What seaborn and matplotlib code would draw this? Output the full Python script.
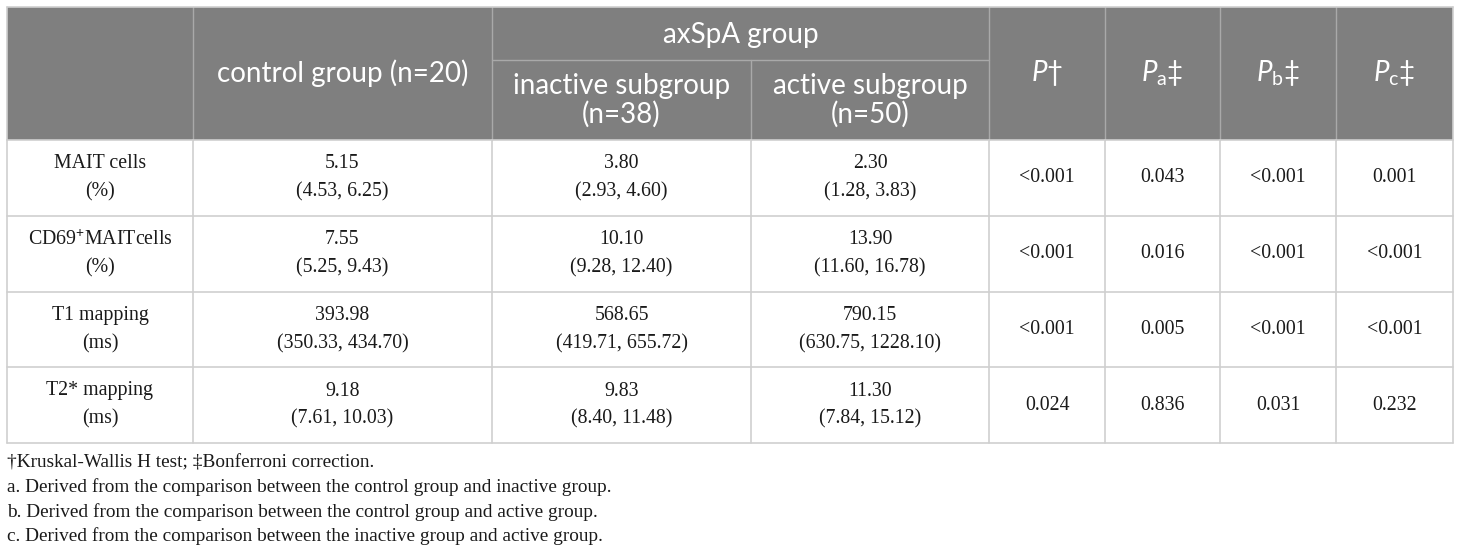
import numpy as np
import pandas as pd
import seaborn as sns
import matplotlib.pyplot as plt
from matplotlib.patches import Rectangle


# table content
row_names = ["MAIT cells", "CD69$^{+}$MAITcells", "T1 mapping", "T2* mapping"]
row_units = ["(%)", "(%)", "(ms)", "(ms)"]

control_med = [5.15, 7.55, 393.98, 9.18]
control_q1 = [4.53, 5.25, 350.33, 7.61]
control_q3 = [6.25, 9.43, 434.70, 10.03]

inactive_med = [3.80, 10.10, 568.65, 9.83]
inactive_q1 = [2.93, 9.28, 419.71, 8.40]
inactive_q3 = [4.60, 12.40, 655.72, 11.48]

active_med = [2.30, 13.90, 790.15, 11.30]
active_q1 = [1.28, 11.60, 630.75, 7.84]
active_q3 = [3.83, 16.78, 1228.10, 15.12]

p_kw = ["<0.001", "<0.001", "<0.001", "0.024"]
p_a = ["0.043", "0.016", "0.005", "0.836"]
p_b = ["<0.001", "<0.001", "<0.001", "0.031"]
p_c = ["0.001", "<0.001", "<0.001", "0.232"]

group_headers = ["control group (n=20)", "inactive subgroup\n(n=38)", "active subgroup\n(n=50)"]
span_header = "axSpA group"
p_headers = ["$P$†", "$P_{\\mathrm{a}}$‡", "$P_{\\mathrm{b}}$‡", "$P_{\\mathrm{c}}$‡"]

footnotes = [
    "†Kruskal-Wallis H test; ‡Bonferroni correction.",
    "a. Derived from the comparison between the control group and inactive group.",
    "b. Derived from the comparison between the control group and active group.",
    "c. Derived from the comparison between the inactive group and active group.",
]

sns.set_theme(style="white")
plt.rcParams["mathtext.fontset"] = "custom"
plt.rcParams["mathtext.rm"] = "Lato"
plt.rcParams["mathtext.it"] = "Lato:italic"
plt.rcParams["font.family"] = ["Liberation Serif", "DejaVu Sans"]

# layout in pixels
xs = [7, 193, 492, 751, 989, 1105, 1220, 1336, 1453]
ys = [7, 140, 216, 292, 367, 443]
split_y = 60

head_bg = "#7f7f7f"
head_line = "#a9a9a9"
body_line = "#cfcfcf"
serif = ["Liberation Serif", "DejaVu Serif"]
sans = ["Lato", "DejaVu Sans"]

fig = plt.figure(figsize=(14.6, 5.55), dpi=100)
ax = fig.add_axes([0, 0, 1, 1])
ax.set_xlim(0, 1460)
ax.set_ylim(555, 0)
ax.axis("off")

# header background
ax.add_patch(Rectangle((xs[0], ys[0]), xs[-1] - xs[0], ys[1] - ys[0],
                       facecolor=head_bg, edgecolor="none", zorder=1))

# header lines
for x in xs[1:-1]:
    y0 = split_y if x == xs[3] else ys[0]
    ax.plot([x, x], [y0, ys[1]], color=head_line, lw=1, zorder=2)
ax.plot([xs[2], xs[4]], [split_y, split_y], color=head_line, lw=1, zorder=2)

# body grid
for y in ys[1:]:
    ax.plot([xs[0], xs[-1]], [y, y], color=body_line, lw=1.2, zorder=2)
for x in xs:
    ax.plot([x, x], [ys[1], ys[-1]], color=body_line, lw=1.2, zorder=2)
ax.plot([xs[0], xs[-1]], [ys[0], ys[0]], color=body_line, lw=1.2, zorder=2)
ax.plot([xs[0], xs[0]], [ys[0], ys[1]], color=body_line, lw=1.2, zorder=2)
ax.plot([xs[-1], xs[-1]], [ys[0], ys[1]], color=body_line, lw=1.2, zorder=2)

hfs = 20
cx = lambda i: (xs[i] + xs[i + 1]) / 2

ax.text(cx(1), (ys[0] + ys[1]) / 2, group_headers[0], color="white", fontsize=hfs,
        family=sans, ha="center", va="center", zorder=3)
ax.text((xs[2] + xs[4]) / 2, (ys[0] + split_y) / 2 + 1, span_header, color="white",
        fontsize=hfs, family=sans, ha="center", va="center", zorder=3)
for k, lab in enumerate(group_headers[1:]):
    l1, l2 = lab.split("\n")
    mid = (split_y + ys[1]) / 2
    ax.text(cx(2 + k), mid - 14, l1, color="white", fontsize=hfs, family=sans,
            ha="center", va="center", zorder=3)
    ax.text(cx(2 + k), mid + 14, l2, color="white", fontsize=hfs, family=sans,
            ha="center", va="center", zorder=3)
for k, lab in enumerate(p_headers):
    ax.text(cx(4 + k), (ys[0] + ys[1]) / 2, lab, color="white", fontsize=hfs,
            family=sans, ha="center", va="center", zorder=3)

# body
bfs = 14.3
tc = "#1a1a1a"
groups = [(control_med, control_q1, control_q3),
          (inactive_med, inactive_q1, inactive_q3),
          (active_med, active_q1, active_q3)]
p_cols = [p_kw, p_a, p_b, p_c]
for r in range(len(row_names)):
    mid = (ys[r + 1] + ys[r + 2]) / 2
    ax.text(cx(0), mid - 14, row_names[r], fontsize=bfs, family=serif, color=tc,
            ha="center", va="center")
    ax.text(cx(0), mid + 14, row_units[r], fontsize=bfs, family=serif, color=tc,
            ha="center", va="center")
    for g, (med, q1, q3) in enumerate(groups):
        ax.text(cx(1 + g), mid - 14, f"{med[r]:.2f}", fontsize=bfs, family=serif,
                color=tc, ha="center", va="center")
        ax.text(cx(1 + g), mid + 14, f"({q1[r]:.2f}, {q3[r]:.2f})", fontsize=bfs,
                family=serif, color=tc, ha="center", va="center")
    for k, col in enumerate(p_cols):
        ax.text(cx(4 + k), mid, col[r], fontsize=bfs, family=serif, color=tc,
                ha="center", va="center")

# footnotes
for i, note in enumerate(footnotes):
    ax.text(xs[0], 463 + i * 24.5, note, fontsize=13.85, family=serif, color=tc,
            ha="left", va="center")

fig.savefig("out.png", dpi=100)
